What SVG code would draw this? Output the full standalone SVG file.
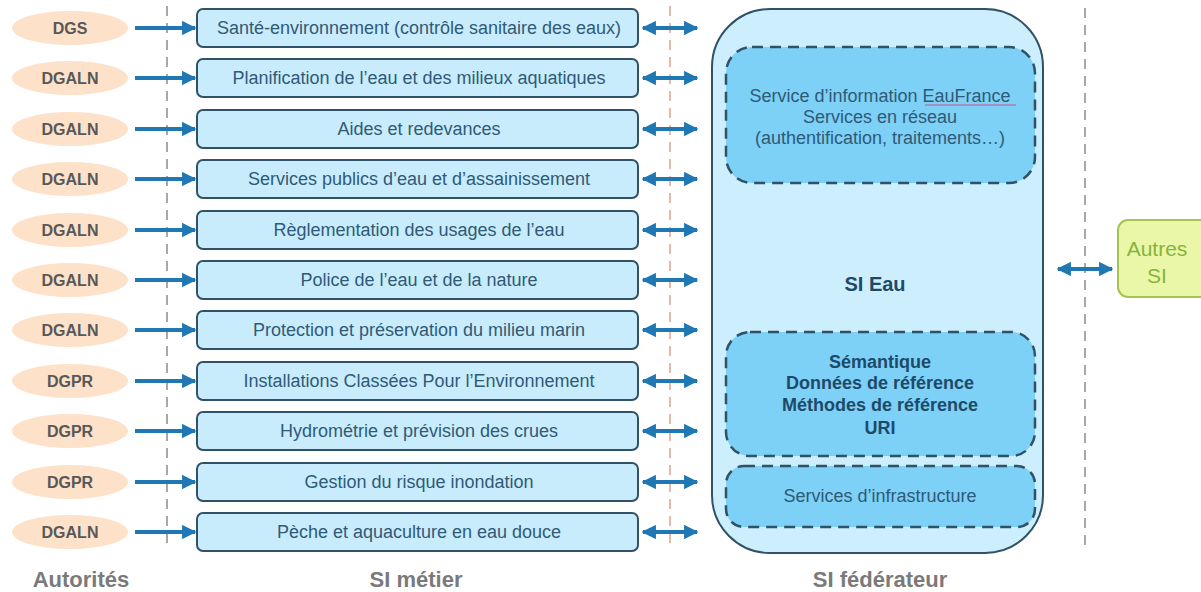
<svg xmlns="http://www.w3.org/2000/svg" width="1201" height="592" viewBox="0 0 1201 592">
<defs>
<marker id="ah" viewBox="0 0 10 10" refX="9" refY="5" markerWidth="3.6" markerHeight="3.6" orient="auto-start-reverse" markerUnits="strokeWidth">
<path d="M0,0 L10,5 L0,10 z" fill="#1f77b4"/>
</marker>
<style>
.ell{fill:#fde1c8;}
.et{font-family:"Liberation Sans",Arial,sans-serif;font-size:16px;font-weight:bold;fill:#585858;text-anchor:middle;}
.box{fill:#c9ecfc;stroke:#2f5266;stroke-width:2;}
.bt{font-family:"Liberation Sans",Arial,sans-serif;font-size:18px;fill:#2f5a78;text-anchor:middle;}
.arr{stroke:#1f77b4;stroke-width:4;fill:none;}
.vl{stroke:#8a8a8a;stroke-width:1.5;stroke-dasharray:10,7;fill:none;}
.vlo{stroke:#d9a48a;stroke-width:1.5;stroke-dasharray:10,7;fill:none;}
.inner{fill:#7dd0f6;stroke:#2f5266;stroke-width:2.5;stroke-dasharray:11,7;}
.it{font-family:"Liberation Sans",Arial,sans-serif;font-size:18px;fill:#2f5a78;text-anchor:middle;}
.itb{font-family:"Liberation Sans",Arial,sans-serif;font-size:18px;font-weight:bold;fill:#1e4a68;text-anchor:middle;}
.lab{font-family:"Liberation Sans",Arial,sans-serif;font-size:22px;font-weight:bold;fill:#7a7a7a;text-anchor:middle;}
</style>
</defs>
<rect width="1201" height="592" fill="#ffffff"/>
<g id="guides">
<line class="vl" x1="167" y1="6" x2="167" y2="548"/>
<line class="vlo" x1="670" y1="6" x2="670" y2="548"/>
<line class="vl" x1="1085" y1="8" x2="1085" y2="548"/>
</g>
<g id="authorities">
<g id="a1"><ellipse class="ell" cx="70" cy="28" rx="58" ry="17"/><text class="et" x="70" y="34">DGS</text></g>
<g id="a2"><ellipse class="ell" cx="70" cy="78" rx="58" ry="17"/><text class="et" x="70" y="84">DGALN</text></g>
<g id="a3"><ellipse class="ell" cx="70" cy="129" rx="58" ry="17"/><text class="et" x="70" y="135">DGALN</text></g>
<g id="a4"><ellipse class="ell" cx="70" cy="179" rx="58" ry="17"/><text class="et" x="70" y="185">DGALN</text></g>
<g id="a5"><ellipse class="ell" cx="70" cy="230" rx="58" ry="17"/><text class="et" x="70" y="236">DGALN</text></g>
<g id="a6"><ellipse class="ell" cx="70" cy="280" rx="58" ry="17"/><text class="et" x="70" y="286">DGALN</text></g>
<g id="a7"><ellipse class="ell" cx="70" cy="330" rx="58" ry="17"/><text class="et" x="70" y="336">DGALN</text></g>
<g id="a8"><ellipse class="ell" cx="70" cy="381" rx="58" ry="17"/><text class="et" x="70" y="387">DGPR</text></g>
<g id="a9"><ellipse class="ell" cx="70" cy="431" rx="58" ry="17"/><text class="et" x="70" y="437">DGPR</text></g>
<g id="a10"><ellipse class="ell" cx="70" cy="482" rx="58" ry="17"/><text class="et" x="70" y="488">DGPR</text></g>
<g id="a11"><ellipse class="ell" cx="70" cy="532" rx="58" ry="17"/><text class="et" x="70" y="538">DGALN</text></g>
</g>
<g id="simetier">
<g id="b1"><rect class="box" x="197" y="9" width="441" height="38" rx="6"/><text class="bt" x="419" y="34">Santé-environnement (contrôle sanitaire des eaux)</text></g>
<g id="b2"><rect class="box" x="197" y="59" width="441" height="38" rx="6"/><text class="bt" x="419" y="84">Planification de l’eau et des milieux aquatiques</text></g>
<g id="b3"><rect class="box" x="197" y="110" width="441" height="38" rx="6"/><text class="bt" x="419" y="135">Aides et redevances</text></g>
<g id="b4"><rect class="box" x="197" y="160" width="441" height="38" rx="6"/><text class="bt" x="419" y="185">Services publics d’eau et d’assainissement</text></g>
<g id="b5"><rect class="box" x="197" y="211" width="441" height="38" rx="6"/><text class="bt" x="419" y="236">Règlementation des usages de l’eau</text></g>
<g id="b6"><rect class="box" x="197" y="261" width="441" height="38" rx="6"/><text class="bt" x="419" y="286">Police de l’eau et de la nature</text></g>
<g id="b7"><rect class="box" x="197" y="311" width="441" height="38" rx="6"/><text class="bt" x="419" y="336">Protection et préservation du milieu marin</text></g>
<g id="b8"><rect class="box" x="197" y="362" width="441" height="38" rx="6"/><text class="bt" x="419" y="387">Installations Classées Pour l’Environnement</text></g>
<g id="b9"><rect class="box" x="197" y="412" width="441" height="38" rx="6"/><text class="bt" x="419" y="437">Hydrométrie et prévision des crues</text></g>
<g id="b10"><rect class="box" x="197" y="463" width="441" height="38" rx="6"/><text class="bt" x="419" y="488">Gestion du risque inondation</text></g>
<g id="b11"><rect class="box" x="197" y="513" width="441" height="38" rx="6"/><text class="bt" x="419" y="538">Pèche et aquaculture en eau douce</text></g>
</g>
<g id="sieau">
<rect x="712" y="9" width="331" height="544" rx="58" fill="#cdeefd" stroke="#2f5266" stroke-width="2"/>
<text x="875" y="291" font-family="Liberation Sans, Arial, sans-serif" font-size="20" font-weight="bold" fill="#1e4a68" text-anchor="middle">SI Eau</text>
<g id="s1">
<rect class="inner" x="726" y="47" width="309" height="136" rx="26"/>
<text class="it" x="880" y="102">Service d’information EauFrance</text>
<line x1="925" y1="105" x2="1016" y2="105" stroke="#d0508a" stroke-width="1.2"/>
<text class="it" x="880" y="123">Services en réseau</text>
<text class="it" x="880" y="144">(authentification, traitements…)</text>
</g>
<g id="s2">
<rect class="inner" x="726" y="332" width="309" height="124" rx="24"/>
<text class="itb" x="880" y="368">Sémantique</text>
<text class="itb" x="880" y="389">Données de référence</text>
<text class="itb" x="880" y="411">Méthodes de référence</text>
<text class="itb" x="880" y="434">URI</text>
</g>
<g id="s3">
<rect class="inner" x="726" y="466" width="309" height="61" rx="18"/>
<text class="it" x="880" y="502">Services d’infrastructure</text>
</g>
</g>
<g id="autres">
<rect x="1118" y="220" width="95" height="77" rx="10" fill="#eaf7a8" stroke="#a3c550" stroke-width="2"/>
<text x="1157" y="256" font-family="Liberation Sans, Arial, sans-serif" font-size="21" fill="#86b43a" text-anchor="middle">Autres</text>
<text x="1157" y="283" font-family="Liberation Sans, Arial, sans-serif" font-size="21" fill="#86b43a" text-anchor="middle">SI</text>
</g>
<g id="connectors">
<line class="arr" x1="135" y1="28" x2="195" y2="28" marker-end="url(#ah)"/>
<line class="arr" x1="135" y1="78" x2="195" y2="78" marker-end="url(#ah)"/>
<line class="arr" x1="135" y1="129" x2="195" y2="129" marker-end="url(#ah)"/>
<line class="arr" x1="135" y1="179" x2="195" y2="179" marker-end="url(#ah)"/>
<line class="arr" x1="135" y1="230" x2="195" y2="230" marker-end="url(#ah)"/>
<line class="arr" x1="135" y1="280" x2="195" y2="280" marker-end="url(#ah)"/>
<line class="arr" x1="135" y1="330" x2="195" y2="330" marker-end="url(#ah)"/>
<line class="arr" x1="135" y1="381" x2="195" y2="381" marker-end="url(#ah)"/>
<line class="arr" x1="135" y1="431" x2="195" y2="431" marker-end="url(#ah)"/>
<line class="arr" x1="135" y1="482" x2="195" y2="482" marker-end="url(#ah)"/>
<line class="arr" x1="135" y1="532" x2="195" y2="532" marker-end="url(#ah)"/>
<line class="arr" x1="643" y1="28" x2="697" y2="28" marker-start="url(#ah)" marker-end="url(#ah)"/>
<line class="arr" x1="643" y1="78" x2="697" y2="78" marker-start="url(#ah)" marker-end="url(#ah)"/>
<line class="arr" x1="643" y1="129" x2="697" y2="129" marker-start="url(#ah)" marker-end="url(#ah)"/>
<line class="arr" x1="643" y1="179" x2="697" y2="179" marker-start="url(#ah)" marker-end="url(#ah)"/>
<line class="arr" x1="643" y1="230" x2="697" y2="230" marker-start="url(#ah)" marker-end="url(#ah)"/>
<line class="arr" x1="643" y1="280" x2="697" y2="280" marker-start="url(#ah)" marker-end="url(#ah)"/>
<line class="arr" x1="643" y1="330" x2="697" y2="330" marker-start="url(#ah)" marker-end="url(#ah)"/>
<line class="arr" x1="643" y1="381" x2="697" y2="381" marker-start="url(#ah)" marker-end="url(#ah)"/>
<line class="arr" x1="643" y1="431" x2="697" y2="431" marker-start="url(#ah)" marker-end="url(#ah)"/>
<line class="arr" x1="643" y1="482" x2="697" y2="482" marker-start="url(#ah)" marker-end="url(#ah)"/>
<line class="arr" x1="643" y1="532" x2="697" y2="532" marker-start="url(#ah)" marker-end="url(#ah)"/>
<line class="arr" x1="1058" y1="269" x2="1112" y2="269" marker-start="url(#ah)" marker-end="url(#ah)"/>
</g>
<g id="labels">
<text class="lab" x="81" y="587">Autorités</text>
<text class="lab" x="416" y="587">SI métier</text>
<text class="lab" x="880" y="587">SI fédérateur</text>
</g>
</svg>
